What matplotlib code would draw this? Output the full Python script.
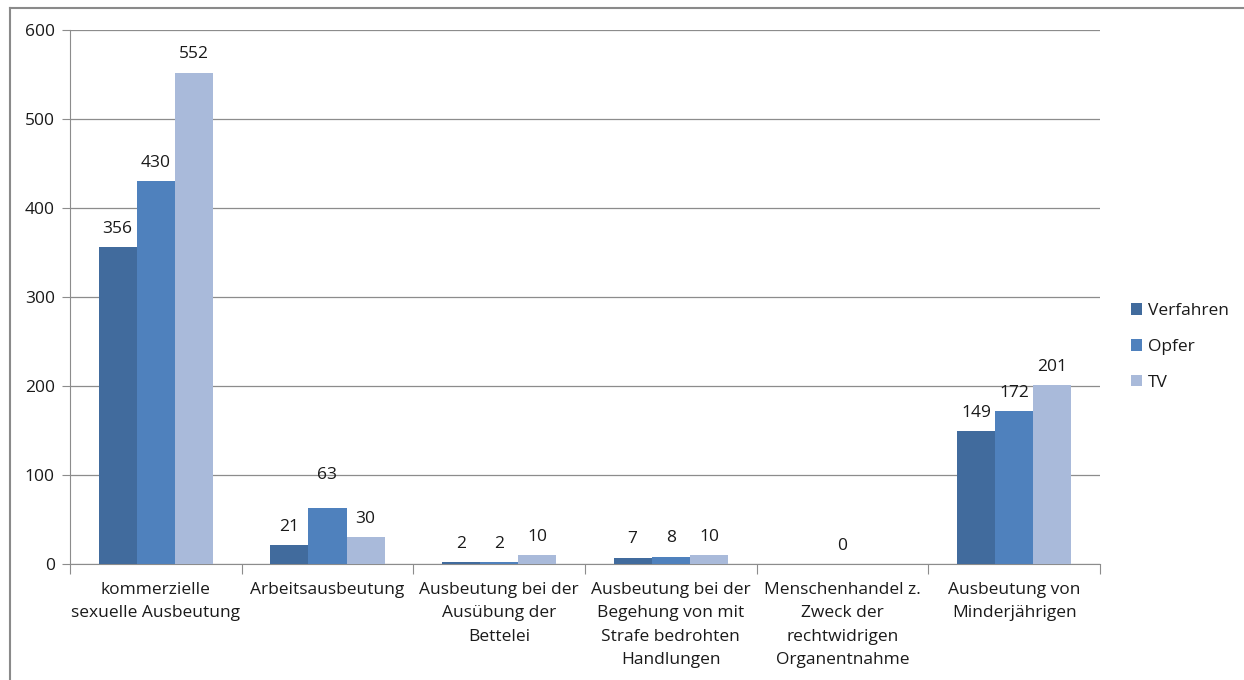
import numpy as np
import matplotlib
matplotlib.use("Agg")
import matplotlib.pyplot as plt
from matplotlib.lines import Line2D
from matplotlib.patches import Patch

plt.rcParams['font.family'] = ['Open Sans', 'DejaVu Sans']

categories = [
    "kommerzielle\nsexuelle Ausbeutung",
    "Arbeitsausbeutung",
    "Ausbeutung bei der\nAusübung der\nBettelei",
    "Ausbeutung bei der\nBegehung von mit\nStrafe bedrohten\nHandlungen",
    "Menschenhandel z.\nZweck der\nrechtwidrigen\nOrganentnahme",
    "Ausbeutung von\nMinderjährigen",
]
series_names = ["Verfahren", "Opfer", "TV"]
verfahren = [356, 21, 2, 7, None, 149]
opfer = [430, 63, 2, 8, 0, 172]
tv = [552, 30, 10, 10, None, 201]
yticks = [0, 100, 200, 300, 400, 500, 600]

colors = ["#416B9D", "#4F81BD", "#A9BADA"]
text_color = "#1a1a1a"
fs = 12.5

fig = plt.figure(figsize=(12.44, 6.8), dpi=100)
# outer chart frame (left and top edges visible)
fig.add_artist(Line2D([10/1244, 10/1244], [0, 1 - 8/680], transform=fig.transFigure,
                      color="#8a8a8a", lw=1.5))
fig.add_artist(Line2D([10/1244, 1], [1 - 8/680, 1 - 8/680], transform=fig.transFigure,
                      color="#8a8a8a", lw=1.5))

ax = fig.add_axes([70/1244, 1 - 564/680, (1100 - 70)/1244, (564 - 30)/680])

n = len(categories)
x = np.arange(n)
bw = 1 / 4.5
all_series = [verfahren, opfer, tv]
for i, (vals, c, name) in enumerate(zip(all_series, colors, series_names)):
    pos = x + (i - 1) * bw
    hv = [v if v is not None else 0 for v in vals]
    ax.bar(pos, hv, width=bw, color=c, label=name, zorder=3)
    for p, v in zip(pos, vals):
        if v is None:
            continue
        off = 7.5
        if v == 63:
            off = 18
        ax.annotate(str(v), (p, v), xytext=(0, off), textcoords="offset points",
                    ha="center", va="bottom", fontsize=fs, color=text_color)

ax.set_xlim(-0.5, n - 0.5)
ax.set_ylim(0, 600)
ax.set_yticks(yticks)
ax.set_yticklabels([str(t) for t in yticks], fontsize=fs, color=text_color)
ax.yaxis.grid(True, color="#8c8c8c", lw=0.9, zorder=0)
ax.set_axisbelow(True)

for s in ["top", "right"]:
    ax.spines[s].set_visible(False)
ax.spines["left"].set_color("#8c8c8c")
ax.spines["bottom"].set_color("#8c8c8c")
ax.tick_params(axis="y", length=6, color="#8c8c8c", pad=5)

# category boundary ticks
ax.set_xticks(np.arange(n + 1) - 0.5)
ax.set_xticklabels([])
ax.tick_params(axis="x", length=7, color="#8c8c8c")
for xi, lab in zip(x, categories):
    ax.text(xi, -20, lab, ha="center", va="top", fontsize=fs, color=text_color,
            linespacing=1.63, transform=ax.transData)

handles = [Patch(facecolor=c, edgecolor="none") for c in colors]
fig.legend(handles, series_names, loc="center left",
           bbox_to_anchor=(1115/1244, 1 - 347/680), frameon=False, fontsize=fs,
           handlelength=0.65, handleheight=0.65, handletextpad=0.35, labelspacing=1.13,
           labelcolor=text_color)

fig.savefig("out.png", dpi=100, facecolor="white")
